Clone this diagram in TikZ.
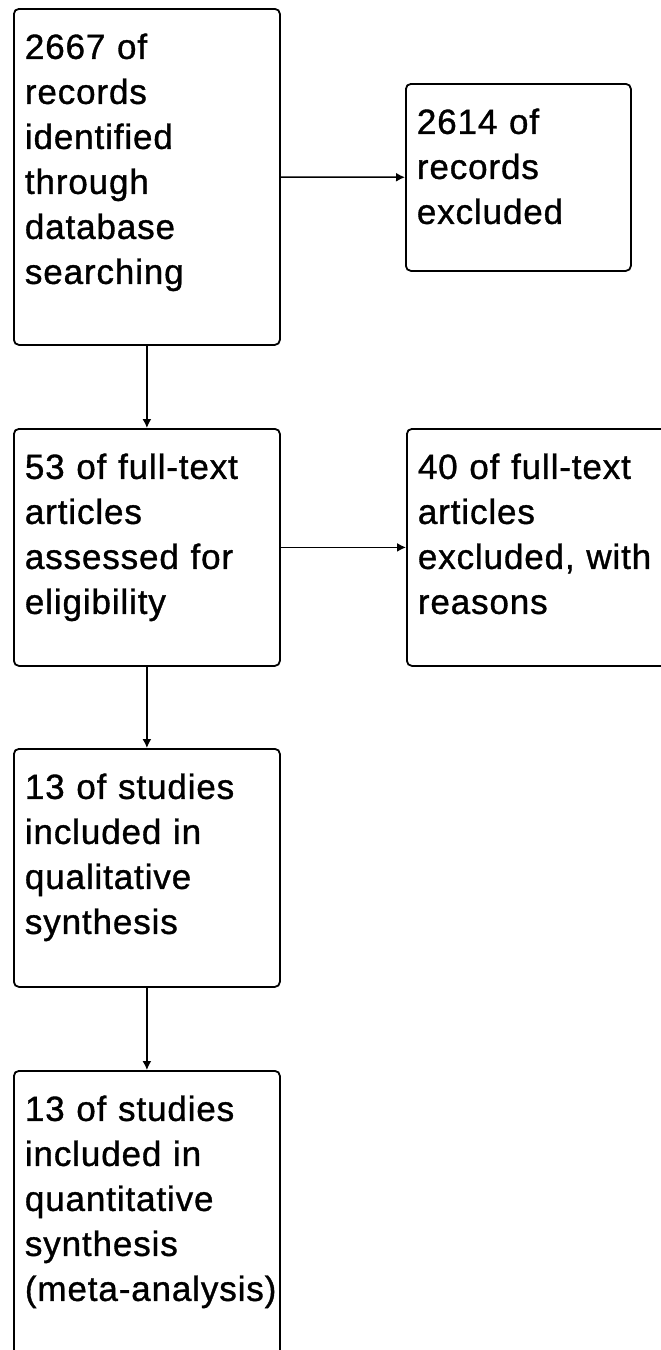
\documentclass[tikz,border=0pt]{standalone}
\usepackage{fontspec}
\setmainfont{Liberation Sans}[LetterSpace=2.5, FakeBold=1]
\usetikzlibrary{arrows.meta}
\usetikzlibrary{positioning}
\tikzset{stage/.style = {draw, line width=1.8pt, rounded corners=5pt, anchor=north west,
                         align=left, text width=244pt, inner xsep=11pt, inner ysep=0pt,
                         text height=50pt, font=\fontsize{35}{45}\selectfont},
         flow/.style = {-{Latex[length=9pt,width=9pt]}, line width=1.5pt}}

\begin{document}
\begin{tikzpicture}[x=1pt, y=-1pt]
      \useasboundingbox (0, 0) rectangle (661, 1350);

      \node [stage, text depth=286pt] (records) at (13, 8)
        {2667 of\\records\\identified\\through\\database\\searching};
      \node [stage, text width=203pt, text depth=137pt] (excluded) at (405, 83)
        {2614 of\\records\\excluded};
      \node [stage, text depth=187pt] (fulltext) at (13, 428)
        {53 of full-text\\articles\\assessed for\\eligibility};
      \node [stage, text width=258pt, text depth=187pt] (reasons) at (406, 428)
        {40 of full-text\\articles\\excluded, with\\reasons};
      \node [stage, text depth=188pt] (qualitative) at (13, 748)
        {13 of studies\\included in\\qualitative\\synthesis};
      \node [stage, text depth=250pt] (quantitative) at (13, 1070)
        {13 of studies\\included in\\quantitative\\synthesis\\\mbox{(meta-analysis)}};

      \draw [flow] (records) -- (excluded);
      \draw [flow] (fulltext) -- (reasons);
      \draw [flow] (records) -- (fulltext);
      \draw [flow] (fulltext) -- (qualitative);
      \draw [flow] (qualitative) -- (quantitative);
    \end{tikzpicture}
\end{document}
